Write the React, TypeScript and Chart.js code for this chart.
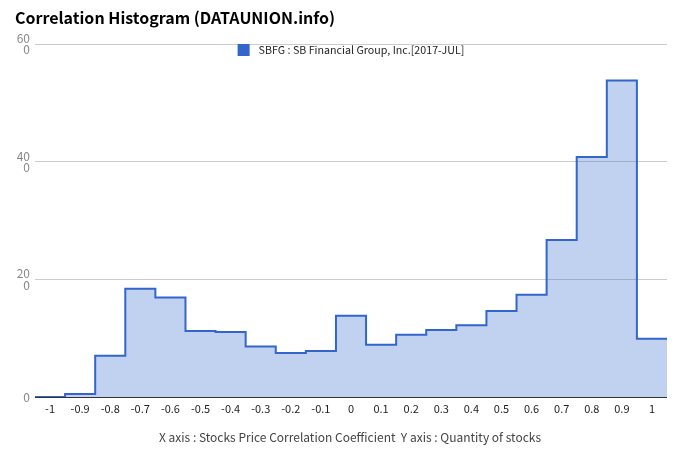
import React, { useEffect, useRef } from "react";
import { Chart, registerables } from "chart.js";

Chart.register(...registerables);

const TITLE = "Correlation Histogram (DATAUNION.info)";
const SERIES_NAME = "SBFG : SB Financial Group, Inc.[2017-JUL]";
const CAPTION = "X axis : Stocks Price Correlation Coefficient  Y axis : Quantity of stocks";

const binCenters = [-1, -0.9, -0.8, -0.7, -0.6, -0.5, -0.4, -0.3, -0.2, -0.1, 0, 0.1, 0.2, 0.3, 0.4, 0.5, 0.6, 0.7, 0.8, 0.9, 1];
const xTickLabels = ["-1", "-0.9", "-0.8", "-0.7", "-0.6", "-0.5", "-0.4", "-0.3", "-0.2", "-0.1", "0", "0.1", "0.2", "0.3", "0.4", "0.5", "0.6", "0.7", "0.8", "0.9", "1"];
const counts = [0, 0.5, 7, 18.4, 16.9, 11.2, 11.05, 8.6, 7.5, 7.8, 13.8, 8.9, 10.6, 11.4, 12.2, 14.6, 17.4, 26.7, 40.8, 53.8, 9.9];
const BIN_WIDTH = 0.1;

const yTickValues = [0, 20, 40, 60];
const yTickLabels: (string | string[])[] = ["0", ["20", "0"], ["40", "0"], ["60", "0"]];

const FONT = "'Noto Sans CJK KR', 'Noto Sans', sans-serif";
const LINE = "#3366cc";
const FILL = "rgba(51,102,204,0.3)";

export default function App() {
  const ref = useRef<HTMLCanvasElement | null>(null);

  useEffect(() => {
    document.body.style.margin = "0";
    const canvas = ref.current;
    if (!canvas) return;

    const half = BIN_WIDTH / 2;
    const pts = binCenters.map((c, i) => ({ x: c - half, y: counts[i] }));
    pts.push({ x: binCenters[binCenters.length - 1] + half, y: counts[counts.length - 1] });

    const overlay = {
      id: "overlay",
      afterDraw(chart: any) {
        const ctx = chart.ctx as CanvasRenderingContext2D;
        const area = chart.chartArea;
        ctx.save();
        // title
        ctx.fillStyle = "#000";
        ctx.font = `bold 16px ${FONT}`;
        ctx.textAlign = "left";
        ctx.textBaseline = "middle";
        ctx.fillText(TITLE, 15, 18);
        // legend
        ctx.font = `10.7px ${FONT}`;
        const tw = ctx.measureText(SERIES_NAME).width;
        const total = 12 + 9 + tw;
        const cx = (area.left + area.right) / 2;
        const lx = cx - total / 2;
        const ly = 50;
        ctx.fillStyle = LINE;
        ctx.fillRect(lx, ly - 6, 12, 12);
        ctx.fillStyle = "#222";
        ctx.fillText(SERIES_NAME, lx + 21, ly);
        // caption
        ctx.font = `12px ${FONT}`;
        ctx.fillStyle = "#444";
        ctx.textAlign = "center";
        ctx.fillText(CAPTION, 350, 437);
        ctx.restore();
      },
    };

    const chart = new Chart(canvas, {
      type: "line",
      data: {
        datasets: [
          {
            label: SERIES_NAME,
            data: pts,
            stepped: true,
            borderColor: LINE,
            backgroundColor: FILL,
            borderWidth: 2,
            fill: "origin",
            pointRadius: 0,
          },
        ],
      },
      options: {
        animation: false,
        responsive: false,
        maintainAspectRatio: false,
        layout: { padding: { top: 44, right: 13, bottom: 0, left: 0 } },
        plugins: {
          legend: { display: false },
          tooltip: { enabled: false },
          title: { display: false },
        },
        scales: {
          x: {
            type: "linear",
            min: binCenters[0] - BIN_WIDTH / 2,
            max: binCenters[binCenters.length - 1] + BIN_WIDTH / 2,
            afterBuildTicks(scale: any) {
              scale.ticks = binCenters.map((v) => ({ value: v }));
            },
            afterFit(scale: any) {
              scale.height = 65;
            },
            grid: { display: false, drawTicks: false },
            border: { display: false },
            ticks: {
              autoSkip: false,
              maxRotation: 0,
              padding: 5,
              color: "#222",
              font: { family: FONT, size: 11 },
              callback: (_v: any, i: number) => xTickLabels[i],
            },
          },
          y: {
            min: 0,
            max: 60,
            afterBuildTicks(scale: any) {
              scale.ticks = yTickValues.map((v) => ({ value: v }));
            },
            afterFit(scale: any) {
              scale.width = 35;
            },
            grid: {
              drawTicks: false,
              color: (c: any) => (c.tick && c.tick.value === 0 ? "#333" : "#ccc"),
            },
            border: { display: false },
            ticks: {
              padding: 5,
              color: "#888",
              font: { family: FONT, size: 12, lineHeight: 0.95 },
              callback: (_v: any, i: number) => yTickLabels[i],
            },
          },
        },
      },
      plugins: [overlay],
    });

    return () => chart.destroy();
  }, []);

  return (
    <div style={{ width: 680, height: 462 }}>
      <canvas ref={ref} width={680} height={462} style={{ display: "block" }} />
    </div>
  );
}
